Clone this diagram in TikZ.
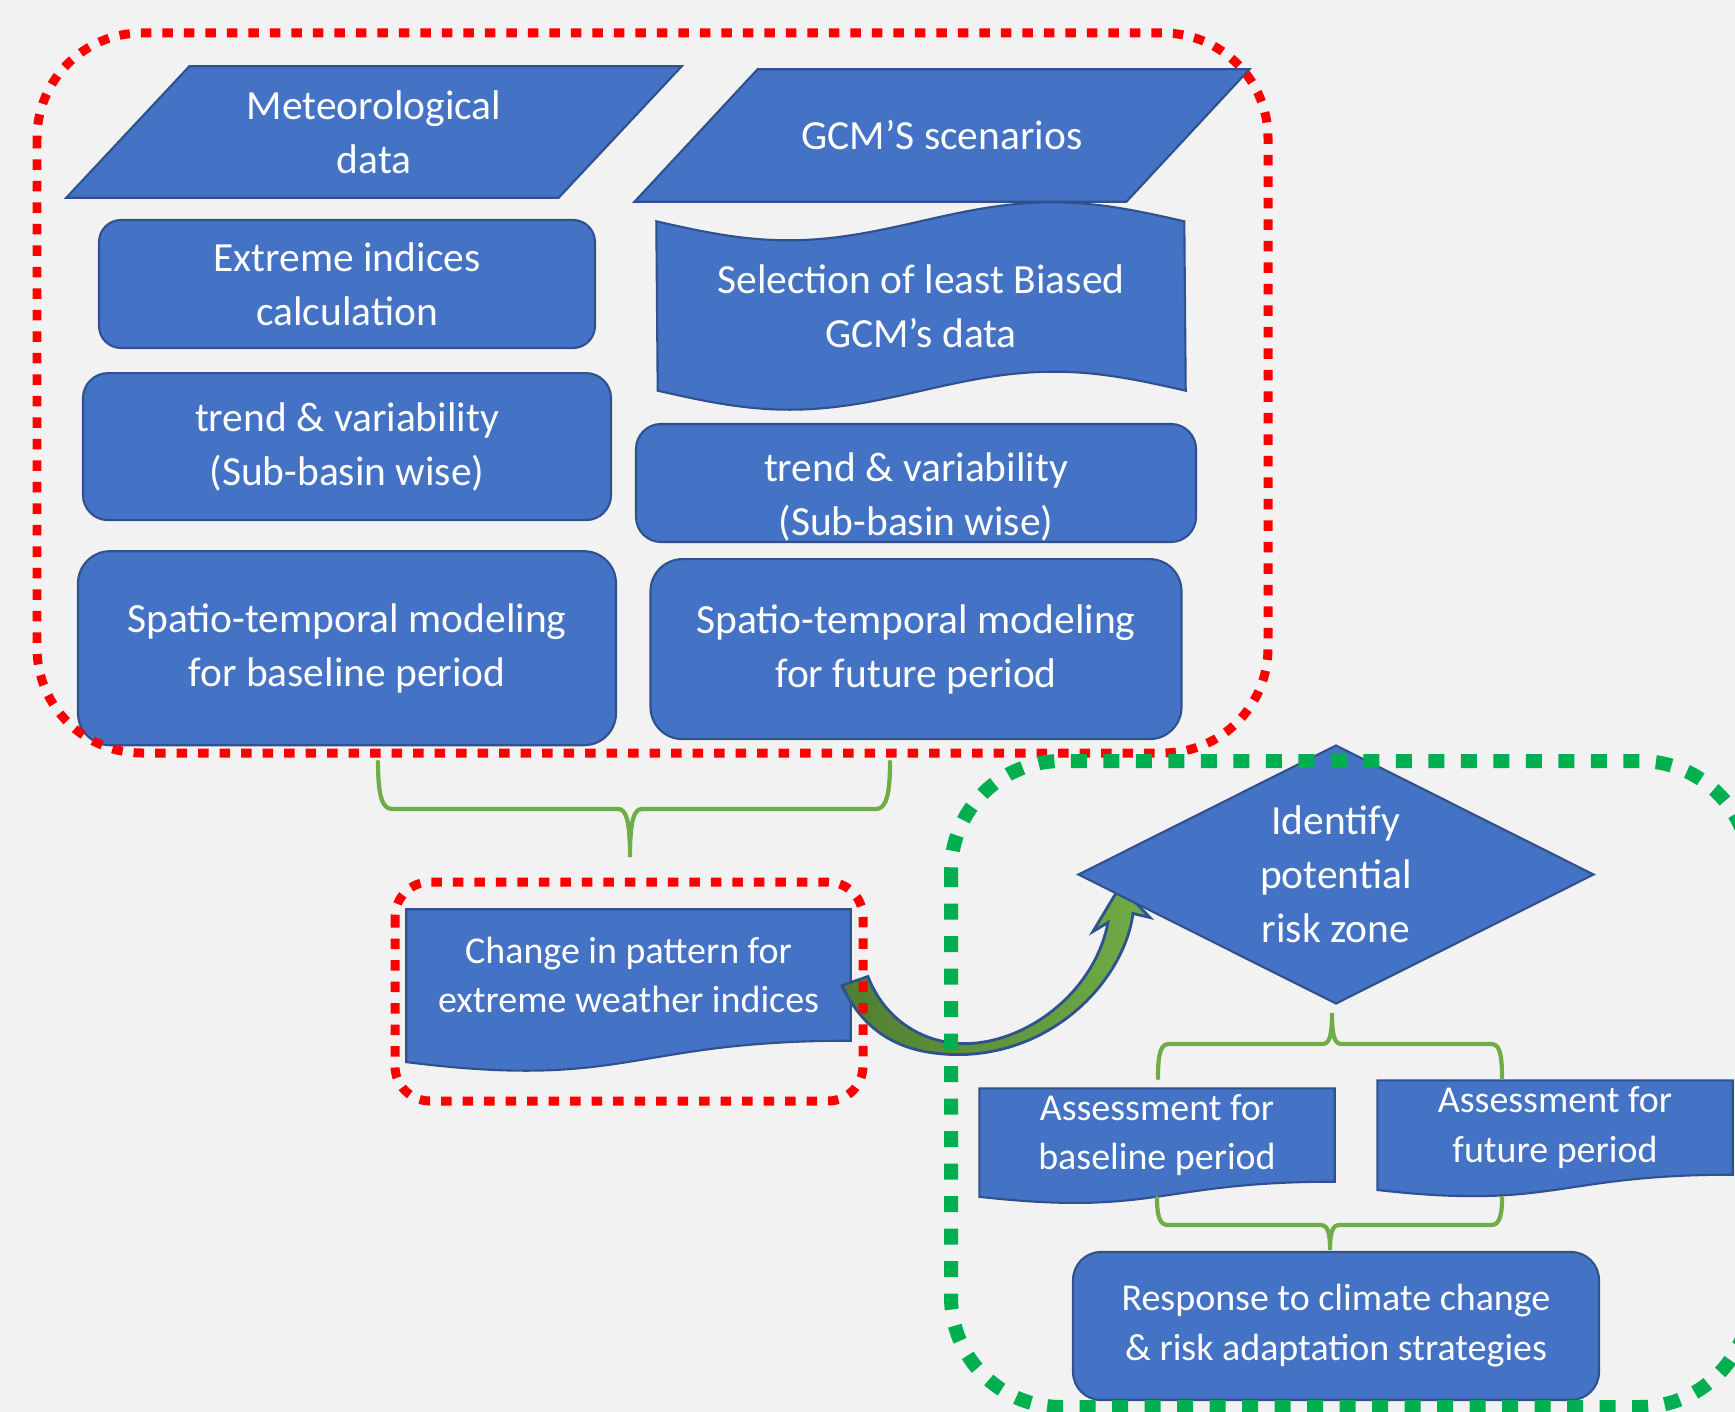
\documentclass[tikz,border=0pt]{standalone}
\usepackage{fontspec}
\setmainfont{Carlito}
\usetikzlibrary{positioning,calc,backgrounds,shapes.geometric}
\definecolor{boxblue}{HTML}{4472C4}
\definecolor{boxedge}{HTML}{2F528F}
\definecolor{zonered}{HTML}{FF0000}
\definecolor{zonegreen}{HTML}{00B050}
\definecolor{bracegreen}{HTML}{70AD47}
\definecolor{arrowdark}{HTML}{507E32}
\definecolor{arrowlight}{HTML}{70AD47}
\definecolor{paper}{HTML}{F2F2F2}
\tikzset{
    block/.style={rectangle,rounded corners=0.25cm,draw=boxedge,fill=boxblue,line width=0.6pt,text=white,align=center,inner sep=0pt,font=\fontsize{11.8}{15.3}\selectfont},
    datain/.style={rectangle,text=white,align=center,inner sep=0pt,font=\fontsize{11.8}{15.3}\selectfont},
    decision/.style={diamond,aspect=2,draw=boxedge,fill=boxblue,line width=0.6pt,text=white,align=center,inner sep=0pt,font=\fontsize{11.8}{15.3}\selectfont},
    docbox/.style={rectangle,text=white,align=center,inner sep=0pt,font=\fontsize{10.8}{14.2}\selectfont},
    docshape/.style={draw=boxedge,fill=boxblue,line width=0.6pt},
    bigtext/.style={text=white,align=center,inner sep=0pt,font=\fontsize{11.8}{15.3}\selectfont},
    brace/.style={draw=bracegreen,line width=1.2pt,line cap=round},
    uturn/.style={draw=boxedge,line width=0.8pt,left color=arrowdark,right color=arrowlight},
    redzone/.style={draw=zonered,line width=0.09cm,dash pattern=on 0.105cm off 0.11cm},
    greenzone/.style={draw=zonegreen,line width=0.14cm,dash pattern=on 0.16cm off 0.165cm}
}

\begin{document}
\begin{tikzpicture}

                \begin{pgfonlayer}{background}
                    \fill[paper] (0,0) rectangle (17.35,-14.12);
                \end{pgfonlayer}
                \useasboundingbox (0,0) rectangle (17.35,-14.12);

                \node[datain,minimum width=4.91cm,minimum height=1.30cm] (met data) at (3.74,-1.32) {Meteorological\\data};
                \node[datain,minimum width=4.905cm,minimum height=1.31cm] (gcm data) at (9.42,-1.355) {GCM’S scenarios};

                \node[block,minimum width=4.96cm,minimum height=1.28cm,rounded corners=0.22cm] (ext idx) at (3.47,-2.84) {Extreme indices\\calculation};
                \node[block,minimum width=5.28cm,minimum height=1.47cm] (trend l) [below=0.23cm of ext idx] {trend \& variability\\(Sub-basin wise)};
                \node[block,minimum width=5.38cm,minimum height=1.94cm,rounded corners=0.32cm] (model l) [below=0.29cm of trend l] {Spatio-temporal modeling\\for baseline period};

                \node[datain,minimum width=5.28cm,minimum height=1.68cm] (gcm sel) at (9.21,-3.06) {Selection of least Biased\\GCM’s data};
                \node[block,minimum width=5.60cm,minimum height=1.18cm,label={[bigtext,yshift=-0.14cm]center:trend \& variability\\(Sub-basin wise)}] (trend r) at (9.16,-4.83) {};
                \node[block,minimum width=5.31cm,minimum height=1.80cm,rounded corners=0.32cm] (model r) [below=0.15cm of trend r] {Spatio-temporal modeling\\for future period};

                \node[docbox,minimum width=4.43cm,minimum height=1.30cm] (change) at (6.285,-9.75) {Change in pattern for\\extreme weather indices};

                \node[decision,minimum width=5.16cm,minimum height=2.59cm] (risk) at (13.36,-8.745) {Identify\\potential\\risk zone};
                \node[docbox,minimum width=3.54cm,minimum height=0.92cm] (assess base) at (11.57,-11.35) {Assessment for\\baseline period};
                \node[docbox,minimum width=3.54cm,minimum height=0.93cm] (assess fut) at (15.55,-11.275) {Assessment for\\future period};
                \node[block,minimum width=5.26cm,minimum height=1.48cm,rounded corners=0.28cm,font=\fontsize{10.8}{14.2}\selectfont] (response) at (13.36,-13.26) {Response to climate change\\\& risk adaptation strategies};

                \begin{pgfonlayer}{background}
                    \path[docshape] ($(met data.north west)+(0.615,0)$) -- ($(met data.north east)+(0.615,0)$)
                        -- ($(met data.south east)+(-0.615,0)$) -- ($(met data.south west)+(-0.615,0)$) -- cycle;
                    \path[docshape] ($(gcm data.north west)+(0.615,0)$) -- ($(gcm data.north east)+(0.615,0)$)
                        -- ($(gcm data.south east)+(-0.615,0)$) -- ($(gcm data.south west)+(-0.615,0)$) -- cycle;
                    \path[docshape] (gcm sel.north west) sin ++(1.32,-0.19) cos ++(1.32,0.19) sin ++(1.32,0.19) cos ++(1.32,-0.19)
                        -- (gcm sel.south east) sin ++(-1.32,0.19) cos ++(-1.32,-0.19) sin ++(-1.32,-0.19) cos ++(-1.32,0.19) -- cycle;
                    \path[docshape] (change.north west) -- (change.north east) -- (change.south east)
                        .. controls (change.south) and ($(change.south)+(0,-0.494)$) .. ($(change.south west)+(0,-0.214)$) -- cycle;
                    \path[docshape] (assess base.north west) -- (assess base.north east) -- (assess base.south east)
                        .. controls (assess base.south) and ($(assess base.south)+(0,-0.35)$) .. ($(assess base.south west)+(0,-0.151)$) -- cycle;
                    \path[docshape] (assess fut.north west) -- (assess fut.north east) -- (assess fut.south east)
                        .. controls (assess fut.south) and ($(assess fut.south)+(0,-0.354)$) .. ($(assess fut.south west)+(0,-0.153)$) -- cycle;
                    \begin{scope}[shift={(risk.west)}]
                        \path[uturn] (-2.35,-1.11) .. controls (-2.07,-1.71) and (-1.57,-1.81) .. (-1.12,-1.80)
                            .. controls (-0.17,-1.76) and (0.48,-1.01) .. (0.56,-0.39)
                            -- (0.73,-0.43) -- (0.43,-0.12) -- (0.16,-0.57) -- (0.31,-0.48)
                            .. controls (0.18,-1.16) and (-0.47,-1.66) .. (-1.07,-1.69)
                            .. controls (-1.52,-1.71) and (-1.92,-1.46) .. (-2.09,-1.02) -- cycle;
                    \end{scope}
                \end{pgfonlayer}

                \path[brace] (3.78,-7.62) .. controls (3.78,-7.95) and (3.82,-8.09) .. (3.92,-8.09) -- (6.18,-8.09)
                    .. controls (6.26,-8.09) and (6.30,-8.20) .. (6.30,-8.57)
                    .. controls (6.30,-8.20) and (6.34,-8.09) .. (6.42,-8.09) -- (8.76,-8.09)
                    .. controls (8.86,-8.09) and (8.90,-7.95) .. (8.90,-7.62);
                \path[brace] (11.58,-10.78) .. controls (11.58,-10.52) and (11.61,-10.44) .. (11.69,-10.44) -- (13.22,-10.44)
                    .. controls (13.29,-10.44) and (13.32,-10.38) .. (13.32,-10.13)
                    .. controls (13.32,-10.38) and (13.35,-10.44) .. (13.42,-10.44) -- (14.91,-10.44)
                    .. controls (14.99,-10.44) and (15.02,-10.52) .. (15.02,-10.78);
                \path[brace] (11.57,-11.98) .. controls (11.57,-12.17) and (11.60,-12.25) .. (11.68,-12.25) -- (13.20,-12.25)
                    .. controls (13.27,-12.25) and (13.30,-12.30) .. (13.30,-12.50)
                    .. controls (13.30,-12.30) and (13.33,-12.25) .. (13.40,-12.25) -- (14.91,-12.25)
                    .. controls (14.99,-12.25) and (15.02,-12.17) .. (15.02,-11.98);

                \draw[redzone,rounded corners=1.05cm] (0.37,-0.33) rectangle (12.68,-7.53);
                \draw[redzone,rounded corners=0.35cm] (3.95,-8.82) rectangle (8.63,-11.01);
                \draw[greenzone,rounded corners=1.1cm] (9.51,-7.61) rectangle (17.50,-14.07);

            \end{tikzpicture}
\end{document}
